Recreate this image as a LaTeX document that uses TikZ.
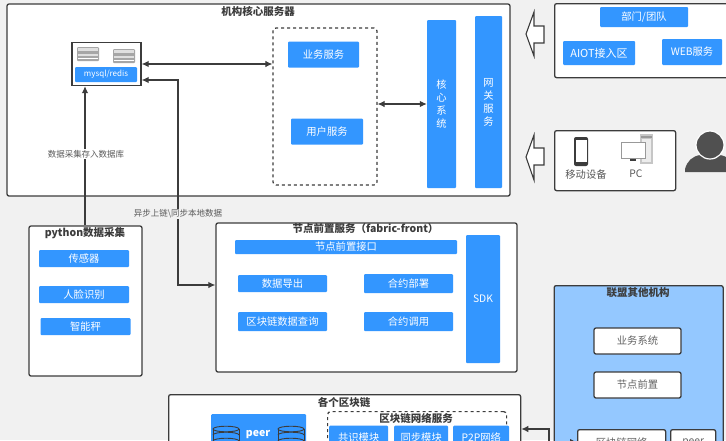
\documentclass[tikz,border=0pt]{standalone}
\usepackage{fontspec}
\setmainfont{Noto Sans CJK SC}
\usetikzlibrary{arrows.meta}
\definecolor{pagegray}{HTML}{F1F1F1}
\definecolor{barblue}{HTML}{3396FF}
\definecolor{lineink}{HTML}{3C3C3C}
\definecolor{lightblue}{HTML}{94C8FF}
\tikzset{
  panel/.style={draw=lineink,line width=1.3pt,fill=white,rounded corners=2pt,inner sep=0pt},
  bar/.style={fill=barblue,rounded corners=1pt,text=white,font=\fontsize{10.3}{13}\selectfont,inner sep=0pt,align=center},
  whitebox/.style={panel,text=lineink!80,font=\fontsize{10.3}{13}\selectfont},
  heading/.style={text=lineink,font=\fontsize{10.5}{12}\selectfont\bfseries,inner sep=0pt},
  note/.style={text=lineink!85,font=\fontsize{8.5}{10}\selectfont,inner sep=0pt},
  devicetext/.style={text=lineink!85,font=\fontsize{10.3}{12}\selectfont,inner sep=0pt},
  dashbox/.style={draw=lineink,dashed,line width=1.2pt,rounded corners=3pt},
  link/.style={draw=lineink,line width=1.1pt,>={Latex[length=7pt,width=6.5pt]}},
  blockarrow/.style={draw=lineink,line width=1.1pt,fill=white,line join=miter},
}
\newcommand{\dbicon}[2]{%
  \fill[gray!70,rounded corners=1pt] (#1-11,#2-7) rectangle (#1+11,#2+7);
  \fill[gray!25] (#1-10,#2-6) rectangle (#1+10,#2-3.5);
  \fill[gray!25] (#1-10,#2-.5) rectangle (#1+10,#2+1.5);
  \fill[white] (#1-10,#2+4) rectangle (#1+10,#2+5);
}
\newcommand{\dblines}[2]{%
  \draw[lineink,line width=.9pt] (#1-13,#2) -- (#1-13,#2+20) (#1+13,#2) -- (#1+13,#2+20);
  \draw[lineink,line width=.9pt] (#1,#2) ellipse (13 and 2.8);
  \draw[lineink,line width=.9pt] (#1-13,#2+6) arc (180:360:13 and 2.8);
  \draw[lineink,line width=.9pt] (#1-13,#2+12) arc (180:360:13 and 2.8);
}
\begin{document}
\begin{tikzpicture}[x=1pt,y=-1pt]
\useasboundingbox (0,0) rectangle (726,440);
\clip (0,0) rectangle (726,440);
\fill[pagegray] (0,0) rectangle (726,440);
% core server
\node[panel,minimum width=503pt,minimum height=192pt] (core) at (258.5,100) {};
\node[heading] (coreTitle) at (258,11) {机构核心服务器};
\node[panel,rounded corners=0pt,minimum width=69pt,minimum height=43pt] (store) at (106.5,64) {};
\dbicon{88}{54}
\dbicon{124}{56}
\node[bar,minimum width=62pt,minimum height=15pt,font=\fontsize{8}{9}\selectfont] (mysql) at (106,74.5) {mysql/redis};
\node[dashbox,minimum width=104pt,minimum height=157pt] (services) at (325,106.5) {};
\node[bar,minimum width=71pt,minimum height=26pt] (biz) at (323.5,54.5) {业务服务};
\node[bar,minimum width=72pt,minimum height=26pt] (user) at (327,131.5) {用户服务};
\node[bar,minimum width=29pt,minimum height=168pt] (kernel) at (441.5,104) {核\\心\\系\\统};
\node[bar,minimum width=27pt,minimum height=172pt] (gateway) at (488.5,102) {网\\关\\服\\务};
\draw[link,<->] (store.east |- 0,64) -- (services.west |- 0,64);
\draw[link,<->] (services.east |- 0,104) -- (kernel.west |- 0,104);
% clients
\node[panel,minimum width=180pt,minimum height=74pt,anchor=north west] (depts) at (554,3) {};
\node[bar,minimum width=88pt,minimum height=20pt] (team) at (644,17) {部门/团队};
\node[bar,minimum width=72pt,minimum height=24pt,font=\fontsize{11}{13}\selectfont] (aiot) at (599,53) {AIOT接入区};
\node[bar,minimum width=60pt,minimum height=26pt] (web) at (692,52) {WEB服务};
\draw[blockarrow] (526,34) -- (534,12) -- (534,26) -- (544,26) -- (544,43) -- (534,43) -- (534,56) -- cycle;
\node[panel,minimum width=121pt,minimum height=60pt,anchor=north west] (devices) at (554,130) {};
\draw[blockarrow] (526,157) -- (534,135) -- (534,148) -- (544,148) -- (544,165) -- (534,165) -- (534,180) -- cycle;
% phone
\fill[lineink,rounded corners=2pt] (574,137) rectangle (588,166);
\fill[white] (575.5,140) rectangle (586.5,161.5);
\node[devicetext] (mobile) at (586,175) {移动设备};
% pc
\fill[gray!45] (640,134) rectangle (653,164);
\fill[gray!15] (642,139) rectangle (651,162);
\fill[gray!80] (641,136) rectangle (652,138);
\draw[gray!80,fill=white] (621,142) rectangle (645,158);
\fill[lineink] (630,159) rectangle (636,161);
\node[devicetext] (pc) at (636,174) {PC};
% person
\fill[lineink!90] (685,172) -- (685,169) to[out=75,in=190] (700,155) -- (720,155) to[out=-10,in=105] (735,169) -- (735,172) -- cycle;
\draw[white,line width=1.2pt,fill=lineink!90] (710,145) circle (14);
% python
\node[panel,minimum width=113pt,minimum height=150pt] (python) at (85.5,301) {};
\node[heading] (pyTitle) at (85,233) {python数据采集};
\node[bar,minimum width=90pt,minimum height=17pt] (sensor) at (84,258.5) {传感器};
\node[bar,minimum width=90pt,minimum height=17pt] (face) at (84,294.5) {人脸识别};
\node[bar,minimum width=90pt,minimum height=17pt] (scale) at (85.5,326.5) {智能秤};
% front
\node[panel,minimum width=301pt,minimum height=149pt] (front) at (366.5,297.5) {};
\node[heading] (frontTitle) at (365.5,229) {节点前置服务（fabric-front）};
\node[bar,minimum width=222pt,minimum height=14pt] (api) at (346,247) {节点前置接口};
\node[bar,minimum width=89pt,minimum height=17pt] (export) at (282.5,283.5) {数据导出};
\node[bar,minimum width=89pt,minimum height=19pt] (query) at (282.5,321.5) {区块链数据查询};
\node[bar,minimum width=89pt,minimum height=19pt] (deploy) at (408.5,283.5) {合约部署};
\node[bar,minimum width=89pt,minimum height=19pt] (invoke) at (408.5,321.5) {合约调用};
\node[bar,minimum width=34pt,minimum height=128pt] (sdk) at (483,299) {SDK};
% links between boxes
\draw[link,->] (python.north -| 85,0) -- (store.south -| 85,0);
\node[note,fill=white,inner sep=1pt] (collectNote) at (86,154) {数据采集存入数据库};
\draw[link,<->] (store.east |- 0,80) -- (178,80) -- (178,285) -- (front.west |- 0,285);
\node[note,fill=pagegray,inner sep=1pt] (syncNote) at (178,214) {异步上链\textbackslash 同步本地数据};
% chain
\node[panel,minimum width=352pt,minimum height=80pt,anchor=north west] (chain) at (168,394) {};
\node[heading] (chainTitle) at (344,402) {各个区块链};
\node[bar,minimum width=95pt,minimum height=50pt,anchor=north west] (peer) at (211,414) {};
\node[text=white,font=\fontsize{10.5}{12}\selectfont\bfseries,inner sep=0pt] (peerText) at (258,435) {peer};
\dblines{226}{429}
\dblines{291}{429}
\node[dashbox,minimum width=179pt,minimum height=50pt,anchor=north west] (network) at (327,411) {};
\node[heading] (netTitle) at (416,418) {区块链网络服务};
\node[bar,minimum width=59pt,minimum height=24pt,anchor=north west] (consensus) at (329,425.5) {共识模块};
\node[bar,minimum width=54pt,minimum height=24pt,anchor=north west] (syncmod) at (394,425.5) {同步模块};
\node[bar,minimum width=56pt,minimum height=24pt,anchor=north west] (p2p) at (453,425.5) {P2P网络};
% other orgs
\node[panel,fill=lightblue,minimum width=169pt,minimum height=180pt,anchor=north west] (others) at (553.5,285) {};
\node[heading] (othersTitle) at (638,293) {联盟其他机构};
\node[whitebox,minimum width=87pt,minimum height=26pt] (bizsys) at (637.5,341) {业务系统};
\node[whitebox,minimum width=87pt,minimum height=26pt] (frontnode) at (637.5,385) {节点前置};
\node[whitebox,minimum width=88pt,minimum height=26pt,anchor=north west] (chainnet) at (577,429) {区块链网络};
\node[whitebox,minimum width=45pt,minimum height=26pt,anchor=north west] (peertwo) at (670,429) {peer};
\coordinate (bend) at (549,429);
\coordinate (feed) at (549,442);
\draw[link,->] (feed) -- (bend) -- (chain.east |- bend);
\draw[link,->] (others.west |- feed) -- (chainnet.west |- feed);
\end{tikzpicture}
\end{document}
